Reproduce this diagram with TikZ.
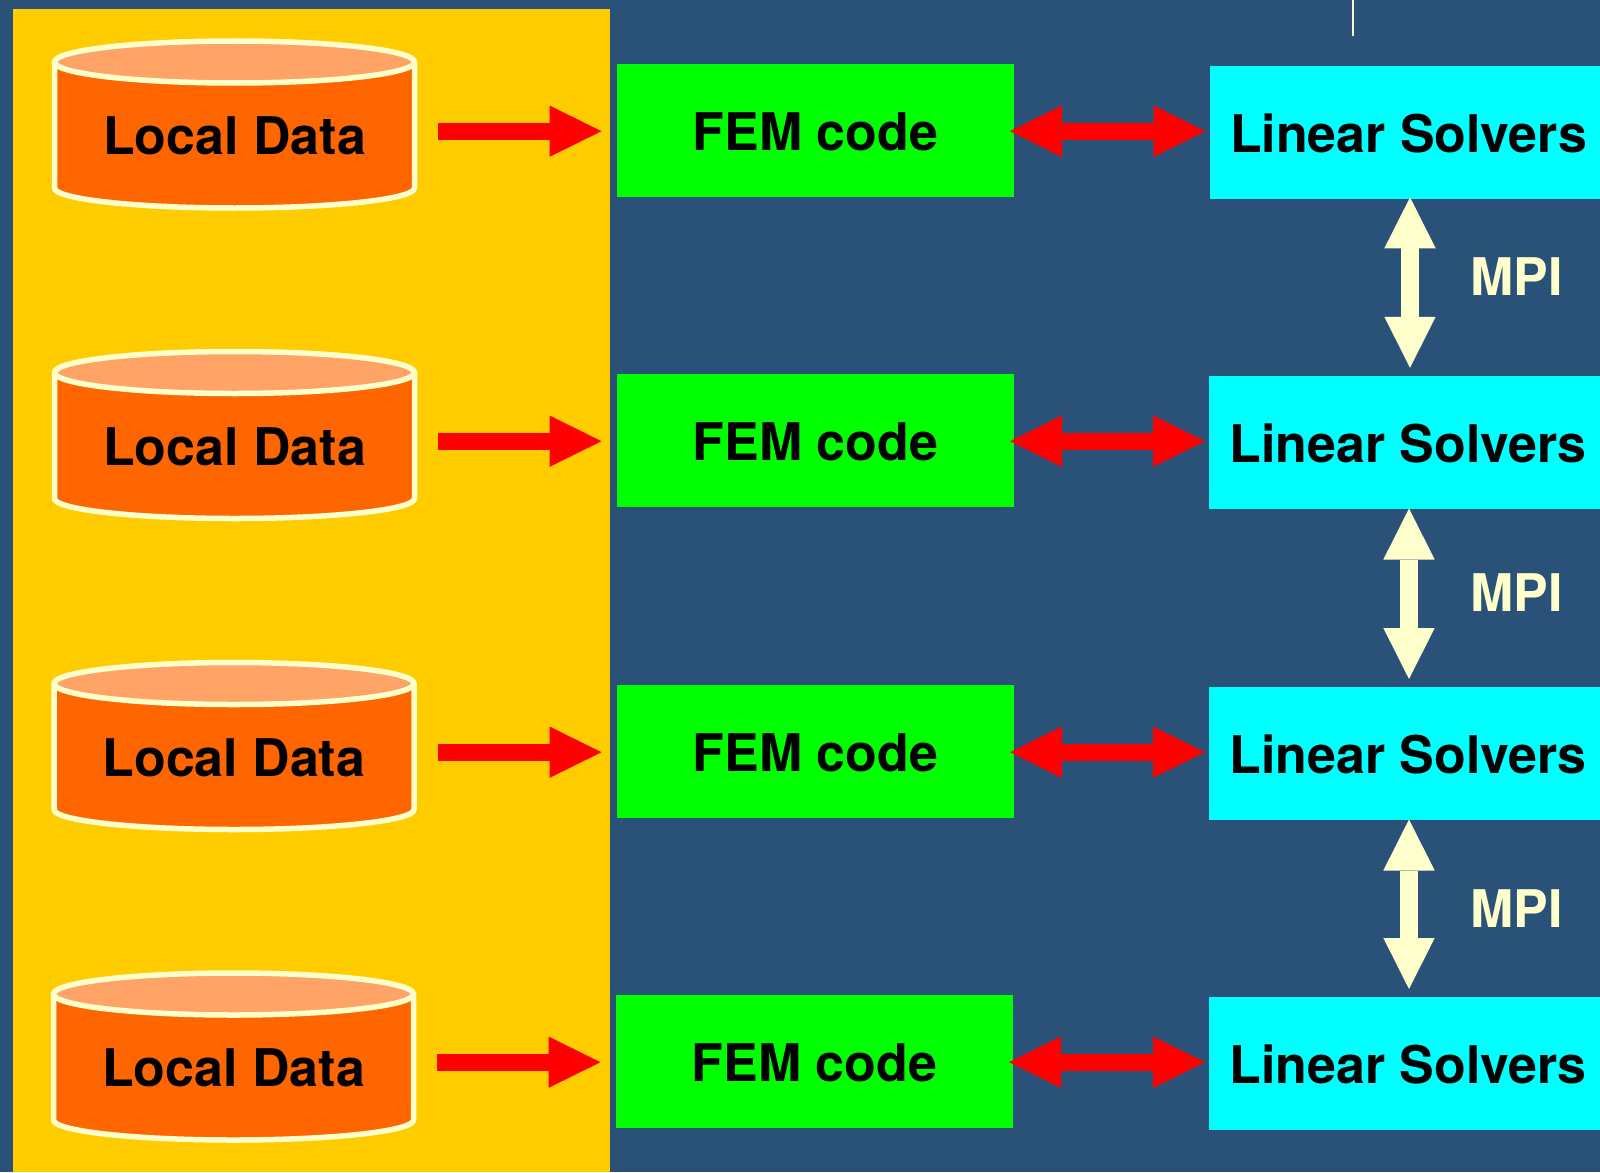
\documentclass[tikz,border=0pt]{standalone}
\usepackage{fontspec}
\setmainfont{TeX Gyre Heros}
\usetikzlibrary{arrows.meta}
\definecolor{bgblue}{HTML}{2A5279}
\definecolor{panel}{HTML}{FFCC00}
\definecolor{cream}{HTML}{FFFFCC}
\definecolor{drum}{HTML}{FF6600}
\definecolor{drumtop}{HTML}{FFA366}
\definecolor{femgreen}{HTML}{00FF00}
\definecolor{solvercyan}{HTML}{00FFFF}
\definecolor{arrowred}{HTML}{FF0000}
\tikzset{
  bigtext/.style={font=\fontsize{51.9}{60}\selectfont\bfseries, text height=37pt, text depth=0pt, inner sep=0pt, outer sep=0pt},
  drumbox/.style={minimum width=365pt, minimum height=173pt, inner sep=0pt, outer sep=0pt},
  drumline/.style={draw=cream, line width=5.5pt, line join=round},
  fembox/.style={bigtext, text height=39pt, fill=femgreen, minimum width=397pt, minimum height=133pt},
  solverbox/.style={bigtext, text height=39pt, fill=solvercyan, minimum width=398pt, minimum height=133pt},
  mpilabel/.style={bigtext, text=cream},
  redtip/.tip={Triangle[length=52pt,width=51.4pt,line width=0pt,fill=arrowred,color=arrowred]},
  creamtip/.tip={Triangle[length=51pt,width=51.4pt,line width=0pt,fill=cream,color=cream]},
  redarrow/.style={draw=arrowred, line width=17.4pt, -redtip},
  redboth/.style={draw=arrowred, line width=17.4pt, redtip-redtip},
  mpiarrow/.style={draw=cream, line width=17.4pt, creamtip-creamtip},
}
\begin{document}
\begin{tikzpicture}[x=1pt,y=-1pt]
\useasboundingbox (0,0) rectangle (1600,1172);
\clip (0,0) rectangle (1600,1172);
\fill[bgblue] (0,0) rectangle (1600,1172);
\fill[panel] (13,9) rectangle (610,1172);
\coordinate (marktop) at (1353,0);
\coordinate (markend) at (1353,36);
\draw[cream, line width=2pt] (marktop) -- (markend);
% rows: index / x drift / vertical offset of the drum / centre y of green box / centre y of cyan box / x of green / x of cyan
\foreach \i/\dx/\dy/\gy/\sy/\gx/\sx in {1/0/0/130.5/132.5/815.5/1408.5,
                                         2/0/310.5/440.5/442.5/815.5/1408,
                                         3/-0.5/621.5/751.5/753.5/815.5/1408,
                                         4/-1/932/1061.5/1063.5/814.5/1408}{
  \begin{scope}[shift={(\dx,\dy)}]
    \filldraw[drumline, fill=drum] (54.5,62) -- (54.5,188) arc[start angle=180,end angle=360,x radius=180pt,y radius=20pt] -- (414.5,62) -- cycle;
    \filldraw[drumline, fill=drumtop] (234.5,62) ellipse[x radius=180pt,y radius=21pt];
    \node[drumbox] (drum\i) at (234.5,124.5) {};
    \node[bigtext] (data\i) at (234.5,136) {Local Data};
  \end{scope}
  \node[fembox] (fem\i) at (\gx,\gy) {FEM code};
  \node[solverbox] (solver\i) at (\sx,\sy) {Linear Solvers};
}
% data to FEM
\foreach \i in {1,2,3,4}{
  \draw[redarrow, shorten <=21pt, shorten >=15.5pt] ([yshift=-0.7pt]drum\i.east |- fem\i.west) -- ([yshift=-0.7pt]fem\i.west);
  \draw[redboth, shorten <=-4pt, shorten >=4pt] ([yshift=-0.7pt]fem\i.east) -- ([yshift=-0.7pt]fem\i.east -| solver\i.west);
}
% MPI links
\node[mpilabel] (mpi1) at (1516.5,276.5) {MPI};
\node[mpilabel] (mpi2) at (1516.5,593) {MPI};
\node[mpilabel] (mpi3) at (1516.5,909) {MPI};
\draw[mpiarrow, shorten <=-1.7pt, shorten >=8.2pt] ([xshift=1.5pt]solver1.south) -- ([xshift=2pt]solver2.north);
\draw[mpiarrow, shorten <=-0.5pt, shorten >=8pt] ([xshift=1pt]solver2.south) -- ([xshift=1pt]solver3.north);
\draw[mpiarrow, shorten <=-0.5pt, shorten >=8pt] ([xshift=1pt]solver3.south) -- ([xshift=1pt]solver4.north);
\end{tikzpicture}
\end{document}
